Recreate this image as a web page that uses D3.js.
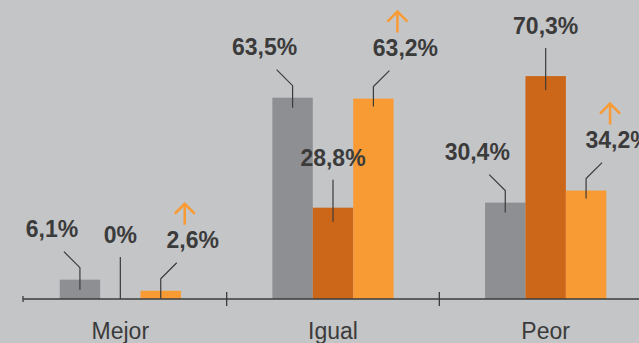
<!DOCTYPE html>
<html>
<head>
<meta charset="utf-8">
<script src="https://cdn.jsdelivr.net/npm/d3@7"></script>
<style>
  body { margin: 0; background: #c4c5c7; }
  svg { display: block; font-family: "Liberation Sans", Arial, sans-serif; }
</style>
</head>
<body>
<div id="chart-area"></div>
<script>
// Data
var categories = ["Mejor", "Igual", "Peor"];
var series = ["s1", "s2", "s3"];
var valuesS1 = [6.1, 63.5, 30.4];
var valuesS2 = [0, 28.8, 70.3];
var valuesS3 = [2.6, 63.2, 34.2];
var labelsS1 = ["6,1%", "63,5%", "30,4%"];
var labelsS2 = ["0%", "28,8%", "70,3%"];
var labelsS3 = ["2,6%", "63,2%", "34,2%"];

var colors = {s1: "#8e8f93", s2: "#cc6719", s3: "#f89b35"};
var ink = "#3b3b3b";

var width = 639, height = 343, baseY = 299;

var svg = d3.select("#chart-area").append("svg")
    .attr("width", width)
    .attr("height", height);

// Scales
var x = d3.scaleBand()
    .domain(categories)
    .range([14, 652])
    .paddingInner(0.43)
    .paddingOuter(0.215);

var x1 = d3.scaleBand()
    .domain(series)
    .range([0, x.bandwidth()]);

var y = d3.scaleLinear()
    .domain([0, 94.3])
    .range([baseY, 0]);

var rows = categories.map((c, i) => {
    return {cat: c, s1: valuesS1[i], s2: valuesS2[i], s3: valuesS3[i],
        l1: labelsS1[i], l2: labelsS2[i], l3: labelsS3[i]};
});

// Bars
var groups = svg.selectAll("g.group").data(rows).enter().append("g")
    .attr("class", "group")
    .attr("transform", (d) => { return "translate(" + x(d.cat) + ",0)"; });

groups.selectAll("rect").data((d) => {
        return series.map((s) => { return {key: s, value: d[s]}; });
    }).enter().append("rect")
    .attr("x", (d) => { return x1(d.key); })
    .attr("width", x1.bandwidth())
    .attr("y", (d) => { return y(d.value); })
    .attr("height", (d) => { return baseY - y(d.value); })
    .attr("fill", (d) => { return colors[d.key]; });

// Axis
svg.append("line")
    .attr("x1", 23).attr("x2", width)
    .attr("y1", baseY).attr("y2", baseY)
    .attr("stroke", ink).attr("stroke-width", 1.3);
svg.append("line")
    .attr("x1", 23).attr("x2", 23)
    .attr("y1", baseY - 3).attr("y2", baseY + 3)
    .attr("stroke", ink).attr("stroke-width", 1.3);
[1, 2, 3].forEach((i) => {
    var tx = x.range()[0] + i * x.step();
    svg.append("line")
        .attr("x1", tx).attr("x2", tx)
        .attr("y1", baseY - 7).attr("y2", baseY + 7)
        .attr("stroke", ink).attr("stroke-width", 1.3);
});

svg.selectAll("text.cat").data(categories).enter().append("text")
    .attr("class", "cat")
    .attr("x", (d) => { return x(d) + x.bandwidth() / 2; })
    .attr("y", 339)
    .attr("text-anchor", "middle")
    .attr("font-size", 23)
    .attr("fill", ink)
    .text((d) => { return d; });

// Value labels with leader lines
var lead = d3.line();
var labels = svg.append("g");

rows.forEach((d) => {
    var gx = x(d.cat);
    var bw = x1.bandwidth();

    // left series: line goes up-left
    var c1 = gx + x1("s1") + bw / 2, t1 = y(d.s1);
    labels.append("path")
        .attr("d", lead([[c1, t1 + 10], [c1, t1 - 12], [c1 - 16, t1 - 28]]))
        .attr("fill", "none").attr("stroke", ink).attr("stroke-width", 1.2);
    labels.append("text")
        .attr("x", c1 - 28).attr("y", t1 - 43)
        .attr("text-anchor", "middle")
        .attr("font-size", 23).attr("font-weight", "bold")
        .attr("fill", ink)
        .text(d.l1);

    // middle series: straight line up
    var c2 = gx + x1("s2") + bw / 2, t2 = y(d.s2);
    var bot = Math.min(t2 + 14, baseY);
    labels.append("line")
        .attr("x1", c2).attr("x2", c2)
        .attr("y1", bot).attr("y2", bot - 42)
        .attr("stroke", ink).attr("stroke-width", 1.2);
    labels.append("text")
        .attr("x", c2).attr("y", bot - 56)
        .attr("text-anchor", "middle")
        .attr("font-size", 23).attr("font-weight", "bold")
        .attr("fill", ink)
        .text(d.l2);

    // right series: line goes up-right, with an up arrow
    var c3 = gx + x1("s3") + bw / 2, t3 = y(d.s3);
    labels.append("path")
        .attr("d", lead([[c3, t3 + 8], [c3, t3 - 12], [c3 + 16, t3 - 28]]))
        .attr("fill", "none").attr("stroke", ink).attr("stroke-width", 1.2);
    var tx3 = c3 + 32, ty3 = t3 - 43;
    labels.append("text")
        .attr("x", tx3).attr("y", ty3)
        .attr("text-anchor", "middle")
        .attr("font-size", 23).attr("font-weight", "bold")
        .attr("fill", ink)
        .text(d.l3);
    var ax = tx3 - 8, ab = ty3 - 23, at = ty3 - 44;
    labels.append("path")
        .attr("d", lead([[ax, ab], [ax, at]]) + lead([[ax - 10, at + 10], [ax, at], [ax + 10, at + 10]]))
        .attr("fill", "none").attr("stroke", colors.s3).attr("stroke-width", 2.5);
});
</script>
</body>
</html>
